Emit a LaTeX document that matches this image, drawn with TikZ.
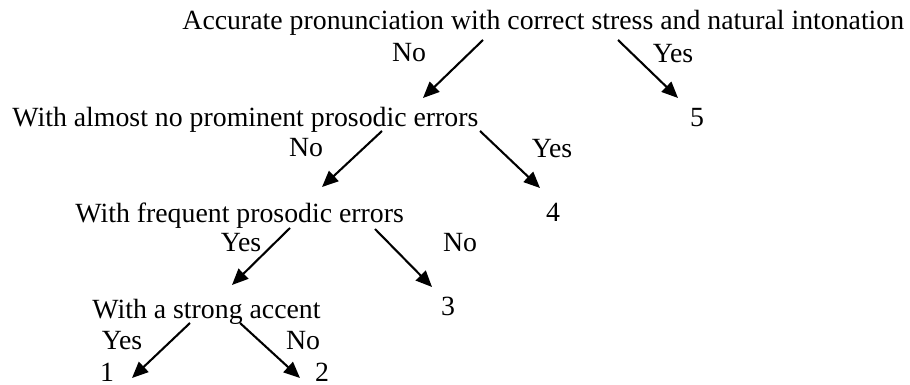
\documentclass[tikz,border=0pt]{standalone}
\usepackage{fontspec}
\setmainfont{Liberation Serif}
\usetikzlibrary{arrows.meta, positioning}

\begin{document}
\begin{tikzpicture}[
    x=0.4317pt, y=-0.4317pt,
    every node/.style={inner sep=0pt, font=\fontsize{12}{14}\selectfont},
    question/.style={anchor=base west},
    answer/.style={anchor=base},
    choice/.style={anchor=base},
    line/.style={draw=black, line width=0.9pt, -{Triangle[length=7pt, width=6pt]}}
]
\useasboundingbox (0,0) rectangle (910,385);

% Questions
\node[question] (q1) at (182,30) {Accurate pronunciation with correct stress and natural intonation};
\node[question] (q2) at (12,127) {With almost no prominent prosodic errors};
\node[question] (q3) at (75,223) {With frequent prosodic errors};
\node[question] (q4) at (92,319) {With a strong accent};

% Scores
\node[answer] (s5) at (697,127) {5};
\node[answer] (s4) at (553,222) {4};
\node[answer] (s3) at (448,316) {3};
\node[answer] (s1) at (107,382) {1};
\node[answer] (s2) at (322,382) {2};

% Yes / No labels
\node[choice] (no1) at (409,62) {No};
\node[choice] (yes1) at (673,63) {Yes};
\node[choice] (no2) at (306,157) {No};
\node[choice] (yes2) at (552,158) {Yes};
\node[choice] (yes3) at (241,252) {Yes};
\node[choice] (no3) at (460,252) {No};
\node[choice] (yes4) at (122,350) {Yes};
\node[choice] (no4) at (303,350) {No};

% Branches
\path[line] ([shift={(301,10)}]q1.base west) -- ([shift={(411,-29)}]q2.base west);
\path[line] ([shift={(436,10)}]q1.base west) -- ([shift={(-19,-29)}]s5.base);
\path[line] ([shift={(370,4)}]q2.base west) -- ([shift={(247,-36)}]q3.base west);
\path[line] ([shift={(468,4)}]q2.base west) -- ([shift={(-13,-34)}]s4.base);
\path[line] ([shift={(215,5)}]q3.base west) -- ([shift={(140,-34)}]q4.base west);
\path[line] ([shift={(300,6)}]q3.base west) -- ([shift={(-16,-29)}]s3.base);
\path[line] ([shift={(98,4)}]q4.base west) -- ([shift={(25,-4)}]s1.base);
\path[line] ([shift={(148,4)}]q4.base west) -- ([shift={(-22,-4)}]s2.base);

\end{tikzpicture}
\end{document}
